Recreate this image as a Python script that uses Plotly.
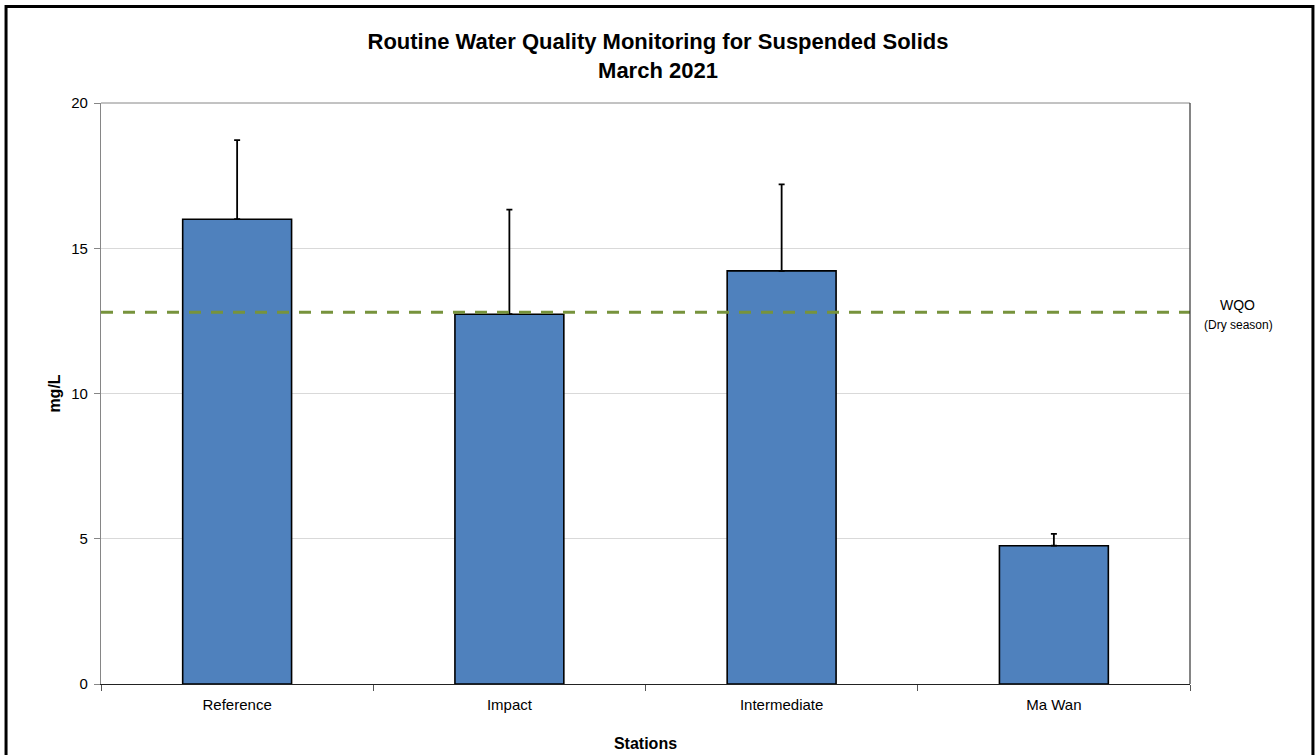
import plotly.graph_objects as go

stations = ["Reference", "Impact", "Intermediate", "Ma Wan"]
mean_ss = [16.0, 12.73, 14.22, 4.76]
err_plus = [2.72, 3.6, 2.98, 0.41]
wqo_value = 12.8
y_ticks = [0, 5, 10, 15, 20]

FONT = "Liberation Sans, Arial"

fig = go.Figure()
fig.add_trace(go.Bar(
    x=stations, y=mean_ss, width=0.4,
    marker=dict(color="#4F81BD", line=dict(color="#000000", width=1.6)),
    error_y=dict(type="data", array=err_plus, symmetric=False, arrayminus=[0]*4,
                 color="#000000", thickness=1.8, width=3, visible=True),
    showlegend=False,
))

# WQO line
fig.add_shape(type="line", xref="paper", x0=0, x1=1, yref="y", y0=wqo_value, y1=wqo_value,
              line=dict(color="#77933C", width=3, dash="12px,10px"))
# plot border lines
fig.add_shape(type="line", xref="paper", yref="paper", x0=0, x1=1, y0=1, y1=1,
              line=dict(color="#868686", width=1))
fig.add_shape(type="line", xref="paper", yref="paper", x0=1, x1=1, y0=0, y1=1,
              line=dict(color="#333333", width=1.2))
# outer frame
fig.add_shape(type="rect", xref="paper", yref="paper", x0=-0.0872, x1=1.1129, y0=-0.14, y1=1.1663,
              line=dict(color="#000000", width=3), fillcolor="rgba(0,0,0,0)", layer="above")

fig.add_annotation(xref="paper", yref="y", x=1.0, xshift=47, y=wqo_value, yshift=7,
                   text="WQO", showarrow=False, xanchor="center", yanchor="middle",
                   font=dict(family=FONT, size=14, color="#000000"))
fig.add_annotation(xref="paper", yref="y", x=1.0, xshift=48, y=wqo_value, yshift=-13,
                   text="(Dry season)", showarrow=False, xanchor="center", yanchor="middle",
                   font=dict(family=FONT, size=12, color="#000000"))

fig.update_layout(
    width=1316, height=755,
    margin=dict(l=101, r=126, t=103, b=71, autoexpand=False),
    paper_bgcolor="#FFFFFF", plot_bgcolor="#FFFFFF",
    font=dict(family=FONT, size=15, color="#000000"),
    title=dict(text="<b>Routine Water Quality Monitoring for Suspended Solids<br>March 2021</b>",
               x=0.5, xanchor="center", y=0.935, yanchor="middle",
               font=dict(family=FONT, size=22, color="#000000")),
    xaxis=dict(
        title=dict(text="<b>Stations</b>", font=dict(size=16), standoff=25),
        showline=True, linecolor="#222222", linewidth=1.2, automargin=False,
        ticks="outside", tickson="boundaries", ticklen=6, tickcolor="#555555",
        ticklabelstandoff=7,
        showgrid=False, tickfont=dict(size=15),
    ),
    yaxis=dict(
        title=dict(text="<b>mg/L</b>", font=dict(size=16), standoff=6),
        range=[0, 20], tickvals=y_ticks, showline=True, linecolor="#868686", linewidth=1.2,
        automargin=False,
        ticks="outside", ticklen=6, tickcolor="#868686", ticklabelstandoff=3,
        showgrid=True, gridcolor="#D9D9D9", gridwidth=1, zeroline=False,
        tickfont=dict(size=15),
    ),
)

fig.write_html("out.html", config={"displayModeBar": False},
               post_script="document.body.style.margin='0';")
